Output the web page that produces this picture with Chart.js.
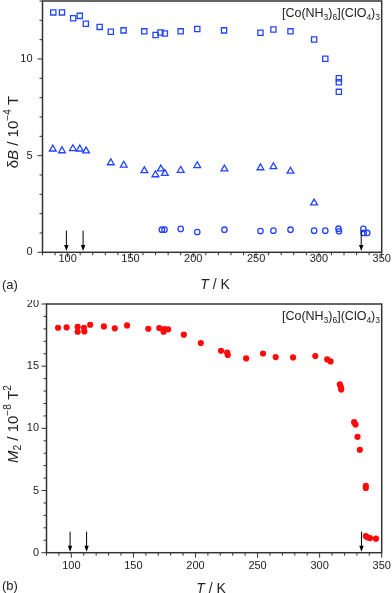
<!DOCTYPE html>
<html>
<head>
<meta charset="utf-8">
<script src="https://cdn.jsdelivr.net/npm/chart.js@4.4.0/dist/chart.umd.min.js"></script>
<style>
body { margin: 0; background: #fff; }
canvas { position: absolute; left: 0; }
#chartA { top: 0; }
#chartB { top: 300px; }
</style>
</head>
<body>
<canvas id="chartA" width="392" height="300"></canvas>
<canvas id="chartB" width="392" height="293"></canvas>
<script>
// panel (a): line width dB in 1e-4 T
var squareT = [88.6, 95.5, 104.4, 109.7, 114.5, 125.5, 134.4, 144.5, 161, 170, 173.9, 177.4, 190, 203.2, 224.5, 253.5, 263.8, 277.4, 296.2, 305.1, 315.9, 315.9, 315.9];
var squareB = [12.41, 12.41, 12.11, 12.23, 11.82, 11.66, 11.41, 11.48, 11.43, 11.24, 11.37, 11.32, 11.43, 11.55, 11.48, 11.36, 11.53, 11.43, 11.01, 10.01, 9.0, 8.8, 8.3];
var triangleT = [88.2, 95.5, 104.2, 109.7, 114.7, 134.4, 144.7, 161.1, 169.9, 174.2, 177.4, 190, 203.2, 224.8, 253.5, 263.8, 277.4, 296.2];
var triangleB = [5.34, 5.25, 5.36, 5.34, 5.24, 4.63, 4.51, 4.22, 4.01, 4.31, 4.08, 4.24, 4.48, 4.31, 4.37, 4.43, 4.20, 2.55];
var circleT = [175, 177.1, 190, 203.2, 224.8, 253.5, 263.8, 277.4, 296.2, 305.1, 315.6, 316, 335.4, 335.7, 338.5];
var circleB = [1.17, 1.17, 1.21, 1.05, 1.17, 1.10, 1.12, 1.17, 1.12, 1.12, 1.22, 1.09, 1.21, 1.00, 1.00];

// panel (b): second moment M2 in 1e-8 T^2
var m2T = [89.3, 96.2, 105.1, 105.1, 110.2, 110.5, 115.2, 126.2, 135, 144.9, 162, 170.8, 174.3, 175.1, 178, 190.6, 204.3, 220.6, 225.5, 226, 240.8, 254.4, 264.6, 278.6, 296.5, 306.1, 308.8, 316.3, 317.1, 317.4, 327.8, 328.9, 330.5, 332.4, 337.2, 337.2, 337.2, 338.5, 340.6, 345.4];
var m2 = [18.09, 18.12, 18.17, 17.77, 18.09, 17.79, 18.33, 18.2, 18.04, 18.28, 18.01, 18.07, 17.77, 17.99, 17.96, 17.53, 16.86, 16.24, 16.1, 15.9, 15.62, 16.02, 15.73, 15.70, 15.81, 15.54, 15.38, 13.53, 13.32, 13.12, 10.50, 10.31, 9.32, 8.27, 5.37, 5.21, 1.34, 1.24, 1.18, 1.13];

// transition arrows (K)
var arrowT = [99, 112.3, 333.7];

var FONT = 'Arial, "Liberation Sans", sans-serif';
var BLUE = '#2444ff';
var RED = '#ff0a0a';

function toPoints(xs, ys) {
    return xs.map(function (x, i) { return { x: x, y: ys[i] }; });
}

function setFont(ctx, style, size) {
    var s = size;
    if (style === 'sup' || style === 'sub') s = size * 0.68;
    ctx.font = (style === 'i' ? 'italic ' : '') + s + 'px ' + FONT;
}

// draw text made of [text, style] pieces
function drawRich(ctx, segs, x, y, size, align) {
    var w = 0;
    segs.forEach(function (s) { setFont(ctx, s[1], size); w += ctx.measureText(s[0]).width; });
    var cx = align === 'right' ? x - w : (align === 'left' ? x : x - w / 2);
    ctx.textBaseline = 'alphabetic';
    ctx.textAlign = 'left';
    segs.forEach(function (s) {
        setFont(ctx, s[1], size);
        var dy = 0;
        if (s[1] === 'sup') dy = -size * 0.42;
        if (s[1] === 'sub') dy = size * 0.25;
        ctx.fillText(s[0], cx, y + dy);
        cx += ctx.measureText(s[0]).width;
    });
}

function framePlugin(opt) {
    return {
        id: 'frame',
        afterDraw: function (chart) {
            var ctx = chart.ctx;
            var a = chart.chartArea;
            var xs = chart.scales.x, ys = chart.scales.y;
            ctx.save();
            ctx.strokeStyle = '#333';
            ctx.fillStyle = '#222';

            // ticks and labels, major ones longer
            ctx.lineWidth = 1;
            ctx.font = '11px ' + FONT;
            ctx.beginPath();
            xs.ticks.forEach(function (t) {
                var px = xs.getPixelForValue(t.value);
                var major = t.value % 50 === 0;
                ctx.moveTo(px, a.bottom);
                ctx.lineTo(px, a.bottom + (major ? 5 : 3));
                if (major && t.value > 80) {
                    ctx.textAlign = 'center';
                    ctx.textBaseline = 'middle';
                    ctx.fillText(String(t.value), px, a.bottom + opt.xLabelDy);
                }
            });
            ys.ticks.forEach(function (t) {
                var py = ys.getPixelForValue(t.value);
                var major = t.value % 5 === 0;
                ctx.moveTo(a.left, py);
                ctx.lineTo(a.left - (major ? 5 : 3), py);
                if (major) {
                    ctx.textAlign = 'right';
                    ctx.textBaseline = 'middle';
                    ctx.fillText(String(t.value), a.left - opt.yLabelDx, py);
                }
            });
            ctx.stroke();

            ctx.lineWidth = 1.5;
            ctx.strokeRect(a.left, a.top, a.right - a.left, a.bottom - a.top);

            // arrows
            ctx.fillStyle = '#000';
            ctx.strokeStyle = '#000';
            ctx.lineWidth = 1;
            arrowT.forEach(function (T) {
                var px = xs.getPixelForValue(T);
                var y1 = ys.getPixelForValue(opt.arrowTop);
                var y2 = ys.getPixelForValue(opt.arrowBottom);
                ctx.beginPath();
                ctx.moveTo(px, y1);
                ctx.lineTo(px, y2 - 4);
                ctx.stroke();
                ctx.beginPath();
                ctx.moveTo(px - 2.2, y2 - 6);
                ctx.lineTo(px + 2.2, y2 - 6);
                ctx.lineTo(px, y2);
                ctx.closePath();
                ctx.fill();
            });

            ctx.fillStyle = '#222';
            // axis titles
            drawRich(ctx, [['T', 'i'], [' / K', '']], opt.xTitleX, opt.xTitleY, 14, 'center');
            ctx.save();
            ctx.translate(opt.yTitleX, opt.yTitleY);
            ctx.rotate(-Math.PI / 2);
            drawRich(ctx, opt.yTitle, 0, 5, 15, 'center');
            ctx.restore();

            // compound label
            drawRich(ctx, [['[Co(NH', ''], ['3', 'sub'], [')', ''], ['6', 'sub'], ['](ClO', ''], ['4', 'sub'], [')', ''], ['3', 'sub']],
                380, opt.compoundY, 12.5, 'right');

            // panel letter
            ctx.font = '13px ' + FONT;
            ctx.textAlign = 'left';
            ctx.textBaseline = 'middle';
            ctx.fillText(opt.letter, 2, opt.letterY);
            ctx.restore();
        }
    };
}

function makeChart(id, datasets, yMax, layout, opt) {
    return new Chart(document.getElementById(id), {
        type: 'scatter',
        data: { datasets: datasets },
        options: {
            responsive: false,
            animation: false,
            layout: { padding: layout.padding, autoPadding: false },
            plugins: { legend: { display: false }, tooltip: { enabled: false } },
            scales: {
                x: {
                    type: 'linear', min: 80, max: 350,
                    grid: { display: false, drawTicks: false },
                    border: { display: false },
                    afterFit: function (s) { s.height = layout.xHeight; s.paddingLeft = 0; s.paddingRight = 0; },
                    ticks: { display: false, stepSize: 10, autoSkip: false }
                },
                y: {
                    type: 'linear', min: 0, max: yMax,
                    grid: { display: false, drawTicks: false },
                    border: { display: false },
                    afterFit: function (s) { s.width = layout.yWidth; s.paddingTop = 0; s.paddingBottom = 0; },
                    ticks: { display: false, stepSize: 1, autoSkip: false }
                }
            }
        },
        plugins: [framePlugin(opt)]
    });
}

var chartA = makeChart('chartA', [
    { data: toPoints(squareT, squareB), pointStyle: 'rect', pointRadius: 3.7, borderColor: BLUE, backgroundColor: 'rgba(0,0,0,0)', borderWidth: 1.3 },
    { data: toPoints(triangleT, triangleB), pointStyle: 'triangle', pointRadius: 3.9, borderColor: BLUE, backgroundColor: 'rgba(0,0,0,0)', borderWidth: 1.3 },
    { data: toPoints(circleT, circleB), pointStyle: 'circle', pointRadius: 2.7, borderColor: BLUE, backgroundColor: 'rgba(0,0,0,0)', borderWidth: 1.3 }
], 13, { padding: { left: 0, right: 10.3, top: 1, bottom: 0 }, xHeight: 47.7, yWidth: 42.5 }, {
    arrowTop: 1.12, arrowBottom: 0.07, xLabelDy: 7, yLabelDx: 10,
    xTitleX: 215, xTitleY: 289, yTitleX: 12.5, yTitleY: 132,
    yTitle: [['\u03b4', ''], ['B', 'i'], [' / 10', ''], ['\u22124', 'sup'], [' T', '']],
    compoundY: 17, letter: '(a)', letterY: 285
});

var chartB = makeChart('chartB', [
    { data: toPoints(m2T, m2), pointStyle: 'circle', pointRadius: 3.1, borderColor: RED, backgroundColor: RED, borderWidth: 0 }
], 20, { padding: { left: 0, right: 10.3, top: 4, bottom: 0 }, xHeight: 40.3, yWidth: 46.5 }, {
    arrowTop: 1.69, arrowBottom: 0.08, xLabelDy: 13.5, yLabelDx: 7.5,
    xTitleX: 211, xTitleY: 293, yTitleX: 12.5, yTitleY: 124,
    yTitle: [['M', 'i'], ['2', 'sub'], [' / 10', ''], ['\u22128', 'sup'], [' T', ''], ['2', 'sup']],
    compoundY: 20, letter: '(b)', letterY: 286
});
</script>
</body>
</html>
